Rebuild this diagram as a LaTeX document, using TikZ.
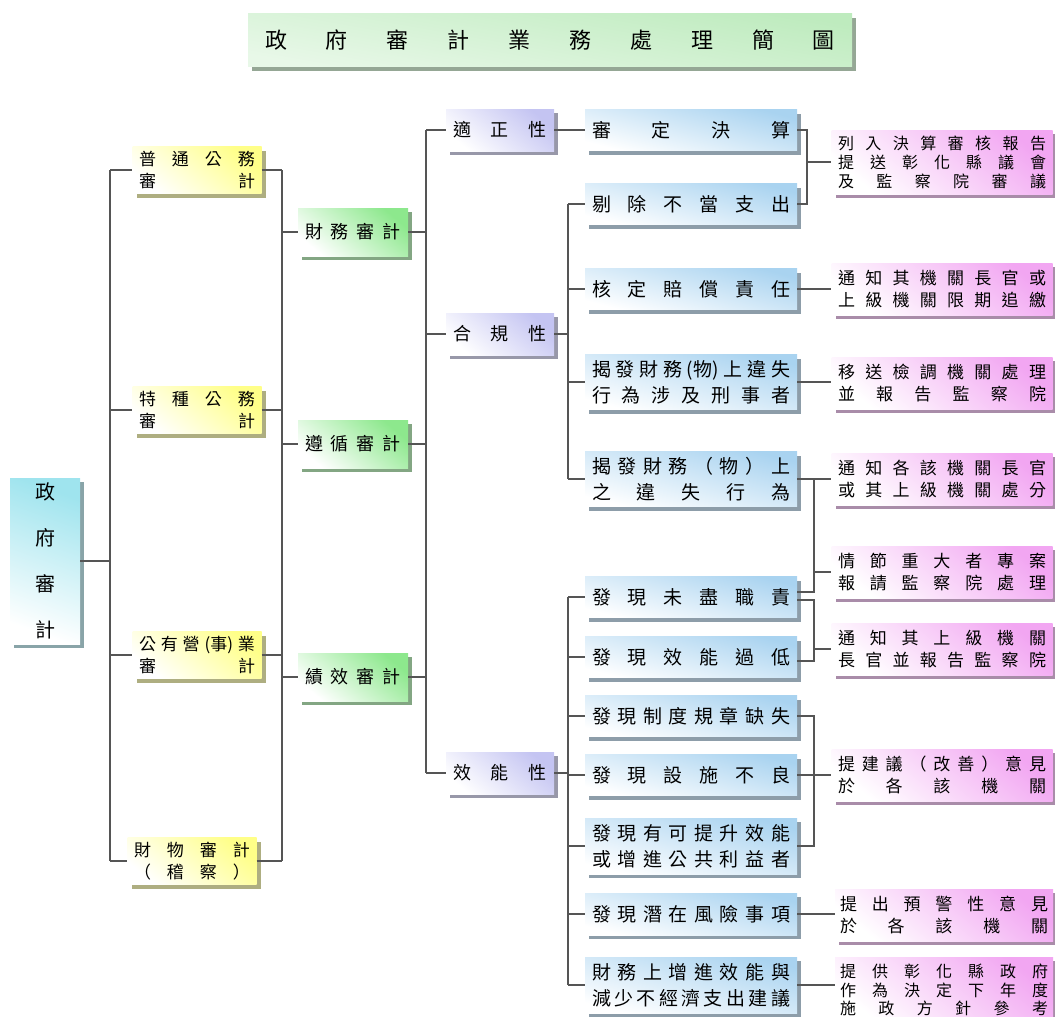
\documentclass[tikz,border=0pt]{standalone}
\usepackage{fontspec}
\setmainfont{Noto Sans CJK TC}
\usetikzlibrary{shadows}
\usepackage{xcolor}
\definecolor{linegray}{HTML}{555555}
\definecolor{titlegreen}{HTML}{BEEBBE}
\definecolor{rootcyan}{HTML}{9FE4EE}
\definecolor{lvyellow}{HTML}{FFFF88}
\definecolor{lvgreen}{HTML}{8DE88D}
\definecolor{lvpurple}{HTML}{C4C4F2}
\definecolor{lvblue}{HTML}{A9D3F0}
\definecolor{lvpink}{HTML}{F2A6F2}

% one justified line of a box
\newlength{\linew}
\newcommand{\jl}[1]{\makebox[\linew][s]{\spaceskip=0pt plus 1fil\relax #1}}

\begin{document}
\begin{tikzpicture}[x=1pt, y=-1pt,
    linew/.code={\setlength{\linew}{#1}},
    cell/.style={draw=none, top color=#1, bottom color=white, shading angle=-40,
      drop shadow={shadow xshift=4pt, shadow yshift=-4pt, fill=#1!55!black, opacity=.7},
      inner sep=0pt, align=center},
    titlebox/.style={cell=titlegreen, bottom color=titlegreen!35, shading angle=-10,
      minimum width=604pt, minimum height=53pt,
      linew=570pt, font=\fontsize{22}{26}\selectfont},
    rootbox/.style={cell=rootcyan, shading angle=-20, minimum width=70pt, minimum height=166pt,
      font=\fontsize{20}{46}\selectfont},
    yellowbox/.style={cell=lvyellow, minimum width=129pt, minimum height=47pt,
      linew=116pt, font=\fontsize{17}{22}\selectfont},
    greenbox/.style={cell=lvgreen, minimum width=110pt, minimum height=48pt,
      linew=96pt, font=\fontsize{18}{22}\selectfont},
    purplebox/.style={cell=lvpurple, minimum width=108pt, minimum height=42pt,
      linew=93pt, font=\fontsize{18}{22}\selectfont},
    bluebox/.style={cell=lvblue, shading angle=-15, minimum width=212pt, minimum height=41pt,
      linew=198pt, font=\fontsize{19}{26}\selectfont},
    pinkbox/.style={cell=lvpink, minimum width=221pt, minimum height=52pt,
      linew=208pt, font=\fontsize{17}{22}\selectfont},
    link/.style={draw=linegray, line width=1.3pt}]
  \useasboundingbox (0,0) rectangle (1055,1017);

  % --- Title ---
  \node[titlebox] (title) at (550,40) {\jl{政 府 審 計 業 務 處 理 簡 圖}};

  % --- Root and first level ---
  \node[rootbox] (root) at (45,561) {政\\府\\審\\計};
  \node[yellowbox] (y1) at (197,170) {\jl{普 通 公 務}\\\jl{審 計}};
  \node[yellowbox] (y2) at (197,410) {\jl{特 種 公 務}\\\jl{審 計}};
  \node[yellowbox] (y3) at (197,655) {\jl{公 有 營 (事) 業}\\\jl{審 計}};
  \node[yellowbox] (y4) at (192,861) {\jl{財 物 審 計}\\\jl{（ 稽 察 ）}};

  % --- Audit types ---
  \node[greenbox] (g1) at (353,232) {\jl{財 務 審 計}};
  \node[greenbox] (g2) at (353,444) {\jl{遵 循 審 計}};
  \node[greenbox] (g3) at (353,677) {\jl{績 效 審 計}};

  % --- Aspects ---
  \node[purplebox] (p1) at (500,130) {\jl{適 正 性}};
  \node[purplebox] (p2) at (500,334) {\jl{合 規 性}};
  \node[purplebox] (p3) at (500,773) {\jl{效 能 性}};

  % --- Findings ---
  \node[bluebox] (a1) at (691,130) {\jl{審 定 決 算}};
  \node[bluebox] (a2) at (691,204) {\jl{剔 除 不 當 支 出}};
  \node[bluebox] (a3) at (691,289) {\jl{核 定 賠 償 責 任}};
  \node[bluebox, minimum height=55pt] (a4) at (691,382)
    {\jl{揭 發 財 務 (物) 上 違 失}\\\jl{行 為 涉 及 刑 事 者}};
  \node[bluebox, minimum height=55pt] (a5) at (691,479)
    {\jl{揭 發 財 務 （ 物 ） 上}\\\jl{之 違 失 行 為}};
  \node[bluebox] (a6) at (691,597) {\jl{發 現 未 盡 職 責}};
  \node[bluebox] (a7) at (691,657) {\jl{發 現 效 能 過 低}};
  \node[bluebox] (a8) at (691,716) {\jl{發 現 制 度 規 章 缺 失}};
  \node[bluebox] (a9) at (691,775) {\jl{發 現 設 施 不 良}};
  \node[bluebox, minimum height=56pt] (a10) at (691,846)
    {\jl{發 現 有 可 提 升 效 能}\\\jl{或 增 進 公 共 利 益 者}};
  \node[bluebox, minimum height=42pt] (a11) at (691,914) {\jl{發 現 潛 在 風 險 事 項}};
  \node[bluebox, minimum height=56pt] (a12) at (691,985)
    {\jl{財 務 上 增 進 效 能 與}\\\jl{減 少 不 經 濟 支 出 建 議}};

  % --- Actions ---
  \node[pinkbox, minimum height=64pt, font=\fontsize{16}{19}\selectfont] (r1) at (942,162)
    {\jl{列 入 決 算 審 核 報 告}\\\jl{提 送 彰 化 縣 議 會}\\\jl{及 監 察 院 審 議}};
  \node[pinkbox] (r2) at (942,289) {\jl{通 知 其 機 關 長 官 或}\\\jl{上 級 機 關 限 期 追 繳}};
  \node[pinkbox] (r3) at (942,383) {\jl{移 送 檢 調 機 關 處 理}\\\jl{並 報 告 監 察 院}};
  \node[pinkbox] (r4) at (942,479) {\jl{通 知 各 該 機 關 長 官}\\\jl{或 其 上 級 機 關 處 分}};
  \node[pinkbox] (r5) at (942,572) {\jl{情 節 重 大 者 專 案}\\\jl{報 請 監 察 院 處 理}};
  \node[pinkbox] (r6) at (942,649) {\jl{通 知 其 上 級 機 關}\\\jl{長 官 並 報 告 監 察 院}};
  \node[pinkbox] (r7) at (942,775) {\jl{提 建 議 （ 改 善 ） 意 見}\\\jl{於 各 該 機 關}};
  \node[pinkbox, minimum width=218pt] (r8) at (944,915) {\jl{提 出 預 警 性 意 見}\\\jl{於 各 該 機 關}};
  \node[pinkbox, minimum width=218pt, minimum height=66pt, font=\fontsize{16}{18.5}\selectfont] (r9) at (944,990)
    {\jl{提 供 彰 化 縣 政 府}\\\jl{作 為 決 定 下 年 度}\\\jl{施 政 方 針 參 考}};

  % --- Bus lines ---
  \coordinate (bus1) at (110,0);
  \coordinate (bus2) at (282,0);
  \coordinate (bus3) at (426,0);
  \coordinate (bus4) at (568,0);
  \coordinate (brk1) at (807,0);
  \coordinate (brk2) at (814,0);
  \coordinate (a6up) at ([yshift=5pt]a6.east);
  \coordinate (a6dn) at ([yshift=-3pt]a6.east);
  \coordinate (a7dn) at ([yshift=-4pt]a7.east);

  % root to first level
  \draw[link] (root.east) -- (root.east -| bus1);
  \draw[link] (y1.west -| bus1) -- (y4.west -| bus1);
  \foreach \n in {y1,y2,y3,y4}
    \draw[link] (\n.west -| bus1) -- (\n.west);

  % first level to audit types
  \draw[link] (y1.east -| bus2) -- (y4.east -| bus2);
  \foreach \n in {y1,y2,y3,y4}
    \draw[link] (\n.east) -- (\n.east -| bus2);
  \foreach \n in {g1,g2,g3}
    \draw[link] (\n.west -| bus2) -- (\n.west);

  % audit types to aspects
  \draw[link] (p1.west -| bus3) -- (p3.west -| bus3);
  \foreach \n in {g1,g2,g3}
    \draw[link] (\n.east) -- (\n.east -| bus3);
  \foreach \n in {p1,p2,p3}
    \draw[link] (\n.west -| bus3) -- (\n.west);

  % aspects to findings
  \draw[link] (p1.east) -- (a1.west);
  \draw[link] (p2.east) -- (p2.east -| bus4);
  \draw[link] (a2.west -| bus4) -- (a5.west -| bus4);
  \foreach \n in {a2,a3,a4,a5}
    \draw[link] (\n.west -| bus4) -- (\n.west);
  \draw[link] (p3.east) -- (p3.east -| bus4);
  \draw[link] (a6.west -| bus4) -- (a12.west -| bus4);
  \foreach \n in {a6,a7,a8,a9,a10,a11,a12}
    \draw[link] (\n.west -| bus4) -- (\n.west);

  % findings to actions
  \draw[link] (a1.east) -- (a1.east -| brk1) -- (a2.east -| brk1) -- (a2.east);
  \draw[link] (r1.west -| brk1) -- (r1.west);
  \draw[link] (a3.east) -- (a3.east -| r2.west);
  \draw[link] (a4.east) -- (a4.east -| r3.west);
  \draw[link] (a5.east) -- (a5.east -| r4.west);
  \draw[link] (a5.east -| brk2) -- (a6up -| brk2) -- (a6up);
  \draw[link] (r5.west -| brk2) -- (r5.west);
  \draw[link] (a6dn) -- (a6dn -| brk2) -- (a7dn -| brk2) -- (a7dn);
  \draw[link] (r6.west -| brk2) -- (r6.west);
  \draw[link] (a8.east) -- (a8.east -| brk2) -- (a10.east -| brk2) -- (a10.east);
  \draw[link] (a9.east) -- (a9.east -| r7.west);
  \draw[link] (a11.east) -- (a11.east -| r8.west);
  \draw[link] (a12.east) -- (a12.east -| r9.west);
\end{tikzpicture}
\end{document}
